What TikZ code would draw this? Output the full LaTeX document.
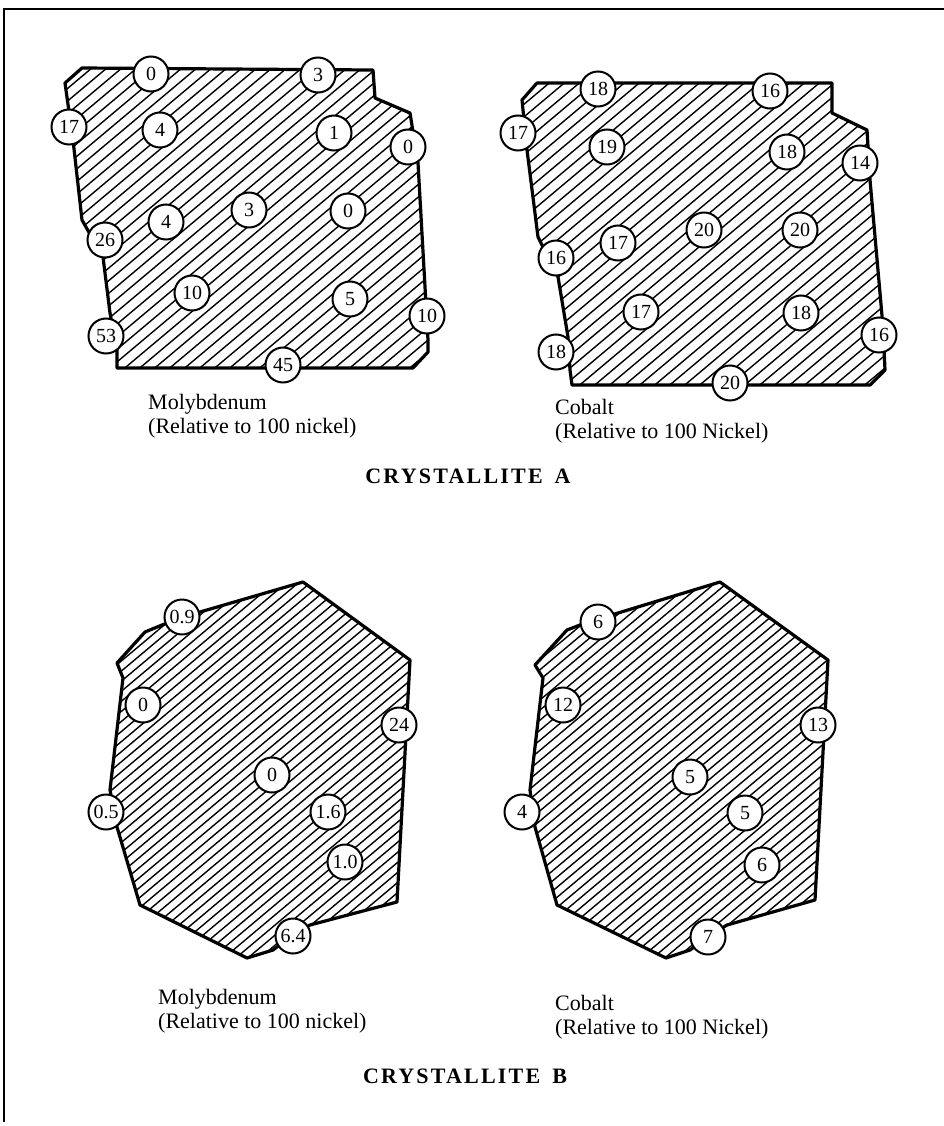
\documentclass[tikz,border=0pt]{standalone}
\usepackage{fontspec}
\setmainfont{Liberation Serif}
\usetikzlibrary{positioning}

\tikzset{
  spot/.style={circle,draw,line width=2pt,fill=white,inner sep=0pt,minimum size=35pt,
    font=\fontsize{20}{20}\selectfont},
  grain/.style={line width=3.2pt,line join=round},
  hatchline/.style={line width=1.4pt},
  caption/.style={align=left,anchor=west,inner sep=0pt,font=\fontsize{22}{24}\selectfont},
  crysttitle/.style={inner sep=0pt,font=\fontsize{22}{22}\selectfont\bfseries\addfontfeature{LetterSpace=10}}
}

% clip to a grain outline and fill it with slanted lines
\newcommand{\hatchgrain}[4]{%
  \begin{scope}
    \clip #1;
    \foreach \k in {0,...,75} \draw[hatchline] ({#2+\k*#4},#3) -- ++(700,-588);
  \end{scope}
  \draw[grain] #1;}

\begin{document}
\begin{tikzpicture}[x=1pt,y=-1pt]
  \useasboundingbox (0,0) rectangle (944,1126);
  \fill[white] (0,0) rectangle (944,1126);
  % frame
  \draw[line width=1.8pt] (944,9) -- (4,9) -- (4,1122);

  % crystallite A
  \hatchgrain{(82,68) -- (373,70) -- (375,98) -- (410,113) -- (418,163) -- (428,340) -- (428,352)
    -- (413,368) -- (117,368) -- (117,350) -- (110,313) -- (103,257) -- (82,220) -- (73,140)
    -- (65,83) -- cycle}{-300}{372}{15}
  \hatchgrain{(537,83) -- (832,83) -- (832,113) -- (867,130) -- (870,180) -- (883,327) -- (885,370)
    -- (870,385) -- (572,385) -- (570,370) -- (568,337) -- (558,277) -- (538,237) -- (527,150)
    -- (522,100) -- cycle}{155}{389}{15}

  \foreach \x/\y/\t [count=\k] in {151/74/0, 318/75/3, 69/127/17, 160/130/4, 334/133/1,
      408/147/0, 166/222/4, 249/210/3, 348/211/0, 105/240/26, 192/293/10, 350/299/5,
      427/316/10, 106/336/53, 283/365/45}
    \node[spot] (moa\k) at (\x,\y) {\t};
  \foreach \x/\y/\t [count=\k] in {598/89/18, 770/91/16, 518/133/17, 607/147/19, 787/152/18,
      860/163/14, 704/230/20, 800/230/20, 556/258/16, 618/243/17, 641/312/17, 801/313/18,
      879/335/16, 556/352/18, 730/383/20}
    \node[spot] (coa\k) at (\x,\y) {\t};

  \node[caption] (moacap) at (148,416) {Molybdenum\\(Relative to 100 nickel)};
  \node[caption] (coacap) at (555,421) {Cobalt\\(Relative to 100 Nickel)};
  \node[crysttitle] (titlea) at (468,476) {CRYSTALLITE\hspace{12pt}A};

  % crystallite B
  \hatchgrain{(303,582) -- (410,660) -- (397,902) -- (310,925) -- (290,937) -- (273,950)
    -- (247,958) -- (140,905) -- (117,827) -- (110,790) -- (123,678) -- (117,663) -- (145,632)
    -- (162,625) -- (200,612) -- cycle}{-345}{962}{12}
  \hatchgrain{(720,582) -- (828,660) -- (815,900) -- (727,925) -- (708,937) -- (690,950)
    -- (666,958) -- (557,905) -- (535,827) -- (530,790) -- (543,678) -- (535,665) -- (567,630)
    -- (580,625) -- (618,613) -- cycle}{72}{962}{12}

  \foreach \x/\y/\t [count=\k] in {182/617/0.9, 143/705/0, 399/725/24, 272/775/0, 106/812/0.5,
      328/812/1.6, 345/862/1.0, 293/936/6.4}
    \node[spot] (mob\k) at (\x,\y) {\t};
  \foreach \x/\y/\t [count=\k] in {598/622/6, 563/705/12, 818/725/13, 690/777/5, 522/812/4,
      745/813/5, 762/865/6, 708/937/7}
    \node[spot] (cob\k) at (\x,\y) {\t};

  \node[caption] (mobcap) at (158,1011) {Molybdenum\\(Relative to 100 nickel)};
  \node[caption] (cobcap) at (555,1017) {Cobalt\\(Relative to 100 Nickel)};
  \node[crysttitle] (titleb) at (465,1076) {CRYSTALLITE\hspace{12pt}B};
\end{tikzpicture}
\end{document}
